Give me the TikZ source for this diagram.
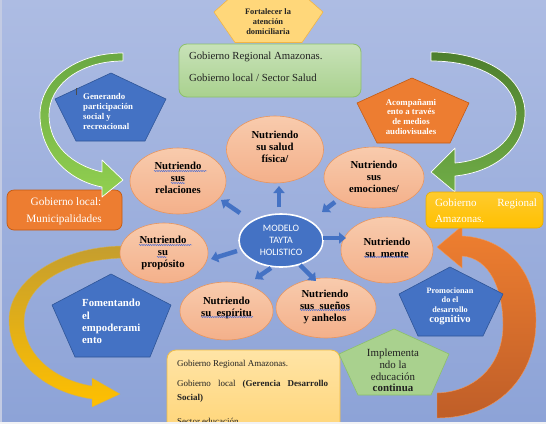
\documentclass[tikz,border=0pt]{standalone}
\usepackage{fontspec}
\setmainfont{Liberation Serif}
\newfontfamily\calibfont{Carlito}
\usetikzlibrary{shapes.geometric,arrows.meta,decorations.pathmorphing}

\definecolor{bgtop}{HTML}{ADBCE3}
\definecolor{bgbot}{HTML}{8DA3D7}
\definecolor{bgstrip}{HTML}{F2F2F4}
\definecolor{leftstrip}{HTML}{C3CBE3}
\definecolor{pblue}{HTML}{4472C4}
\definecolor{pblueline}{HTML}{2F5597}
\definecolor{porange}{HTML}{ED7D31}
\definecolor{porangeline}{HTML}{C55A11}
\definecolor{pgreen}{HTML}{A9D18E}
\definecolor{pgreenline}{HTML}{8CC06B}
\definecolor{gboxtop}{HTML}{C8E2B8}
\definecolor{gboxbot}{HTML}{A9D18E}
\definecolor{gboxline}{HTML}{8CC06B}
\definecolor{pyellow}{HTML}{FFD77A}
\definecolor{pyellowline}{HTML}{F2B544}
\definecolor{nuttop}{HTML}{F8CBAD}
\definecolor{nutbot}{HTML}{F4B08A}
\definecolor{nutline}{HTML}{E8955E}
\definecolor{ytop}{HTML}{FFCB2E}
\definecolor{ybot}{HTML}{FFC000}
\definecolor{yline}{HTML}{E8AE00}
\definecolor{bboxtop}{HTML}{FFE4A6}
\definecolor{bboxbot}{HTML}{FFD474}
\definecolor{bboxline}{HTML}{F0BC45}
\definecolor{lgtop}{HTML}{6AA843}
\definecolor{lgbot}{HTML}{92D050}
\definecolor{rgtop}{HTML}{4E7F2E}
\definecolor{rgbot}{HTML}{70AD47}
\definecolor{gatop}{HTML}{C59E2E}
\definecolor{gabot}{HTML}{FFC000}
\definecolor{oatop}{HTML}{EF7F30}
\definecolor{oabot}{HTML}{BF5E28}
\definecolor{wavyblue}{HTML}{3A64D8}
\definecolor{txtdark}{HTML}{222222}

\tikzset{
  bluepent/.style={fill=pblue, draw=pblueline, line width=0.6pt, line join=round},
  orangepent/.style={fill=porange, draw=porangeline, line width=0.6pt, line join=round},
  greenpent/.style={fill=pgreen, draw=pgreenline, line width=0.6pt, line join=round},
  yellowpent/.style={fill=pyellow, draw=pyellowline, line width=0.6pt, line join=round},
  bandshape/.style={draw=white, line width=0.7pt, line join=round},
  nutell/.style={ellipse, draw=nutline, line width=0.6pt, top color=nuttop, bottom color=nutbot, inner sep=0pt, outer sep=0pt},
  nuttxt/.style={inner sep=0pt, align=center, text=black, font=\fontsize{10.7}{12}\selectfont\bfseries},
  modell/.style={ellipse, draw=white, line width=1.6pt, fill=pblue, inner sep=0pt},
  modtxt/.style={inner sep=0pt, align=center, text=white, font=\calibfont\fontsize{9.8}{12}\selectfont},
  pwtxt/.style={inner sep=0pt, text=white},
  smallarrow/.style={draw=pblue, line width=4.5pt, -{Triangle[length=7pt,width=11pt]}},
  wavy/.style={draw=wavyblue, line width=0.45pt, decorate, decoration={snake, amplitude=0.55pt, segment length=2.2pt}},
  rbox/.style={rounded corners=7pt, inner sep=0pt, outer sep=0pt},
  linetxt/.style={inner sep=0pt, outer sep=0pt}
}

\begin{document}
\begin{tikzpicture}[x=1pt,y=-1pt]
\useasboundingbox (0,0) rectangle (546,424);
% background
\shade[top color=bgtop, bottom color=bgbot] (0,0) rectangle (546,421.5);
\fill[bgstrip] (0,421.5) rectangle (546,424);
\fill[leftstrip] (0,0) rectangle (1.5,421.5);

% left orange box
\node[rbox, fill=porange, draw=porangeline, line width=0.7pt, minimum width=115pt, minimum height=40pt] (munibox) at (64.5,210) {};

% left green curved arrow
\path[bandshape, top color=lgtop, bottom color=lgbot]
  (123,53) .. controls (75,53) and (40,80) .. (40,115)
  .. controls (40,150) and (65,180) .. (102,187)
  -- (102,197) -- (123,180) -- (102,160) -- (102,172)
  .. controls (72,165) and (49,145) .. (49,115)
  .. controls (49,85) and (80,61) .. (123,61) -- cycle;

% right green curved arrow
\path[bandshape, top color=rgtop, bottom color=rgbot]
  (431,52) .. controls (490,52) and (525,80) .. (525,113)
  .. controls (525,148) and (495,172) .. (455,176)
  -- (455,192) -- (431,172) -- (455,148) -- (455,163)
  .. controls (490,160) and (516,140) .. (516,113)
  .. controls (516,85) and (485,61) .. (431,61) -- cycle;

% gold curved arrow (bottom left)
\path[draw=gatop!80!white, line width=0.4pt, top color=gatop, bottom color=gabot]
  (122,246) .. controls (60,247) and (9,280) .. (9,320)
  .. controls (9,362) and (45,392) .. (92,399)
  -- (92,407) -- (120,394) -- (92,378) -- (92,386)
  .. controls (55,380) and (24,355) .. (24,322)
  .. controls (24,285) and (65,260) .. (122,258) -- cycle;

% orange curved arrow (bottom right)
\path[draw=oatop!80!white, line width=0.4pt, top color=oatop, bottom color=oabot]
  (437,418) .. controls (495,418) and (536,380) .. (536,320)
  .. controls (536,270) and (505,238) .. (462,236)
  -- (462,226) -- (437,247) -- (462,268) -- (462,256)
  .. controls (490,258) and (503,290) .. (503,325)
  .. controls (503,365) and (475,392) .. (437,393) -- cycle;

% right yellow box
\node[rbox, rounded corners=6pt, top color=ytop, bottom color=ybot, draw=yline, line width=0.6pt, minimum width=117pt, minimum height=36pt] (regbox) at (484.5,210) {};

% top green box
\node[rbox, rounded corners=8pt, top color=gboxtop, bottom color=gboxbot, draw=gboxline, line width=0.8pt, minimum width=182pt, minimum height=53pt] (saludbox) at (270,70.5) {};

% top pentagon
\draw[yellowpent] (268,-36) -- (323,12) -- (302,42.5) -- (235,42.5) -- (214,12) -- cycle;
\node[inner sep=0pt, align=center, text=txtdark, font=\fontsize{8.4}{10}\selectfont\bfseries] (fort) at (268,21.5) {Fortalecer la\\atención\\domiciliaria};

% bottom box (clipped at the bottom edge)
\begin{scope}
\clip (0,0) rectangle (546,421.5);
\node[rbox, rounded corners=9pt, top color=bboxtop, bottom color=bboxbot, draw=bboxline, line width=0.8pt, minimum width=173pt, minimum height=90pt] (edubox) at (253.5,395) {};
\node[linetxt, anchor=base west, text=txtdark, font=\fontsize{9}{11}\selectfont] (edu1) at (177,366) {Gobierno Regional Amazonas.};
\node[linetxt, anchor=base west, text=txtdark, text width=151pt, font=\fontsize{9}{11}\selectfont] (edu2) at (177,386) {\noindent Gobierno\hfill local\hfill \textbf{(Gerencia}\hfill \textbf{Desarrollo}};
\node[linetxt, anchor=base west, text=txtdark, font=\fontsize{9}{11}\selectfont\bfseries] (edu3) at (177,400) {Social)};
\node[linetxt, anchor=base west, text=txtdark, font=\fontsize{9}{11}\selectfont] (edu4) at (177,424) {Sector educación};
\end{scope}

% pentagons
\draw[bluepent] (111,73) -- (166,99) -- (145,141) -- (76,141) -- (55,99) -- cycle;
\draw[gray!60!black, line width=0.9pt] (76,88) -- (76,95);
\node[pwtxt, anchor=west, align=left, font=\fontsize{8.8}{10.3}\selectfont\bfseries] (gen) at (83,111.5) {Generando\\participación\\social y\\recreacional};

\draw[orangepent] (412,78) -- (469,103) -- (450,143) -- (377,143) -- (357,103) -- cycle;
\node[pwtxt, align=center, font=\fontsize{8.8}{9.8}\selectfont\bfseries] (acomp) at (411,116.7) {Acompañami\\ento a través\\de medios\\audiovisuales};

\draw[bluepent] (111,274) -- (171,305) -- (150,357) -- (75,357) -- (52,305) -- cycle;
\node[pwtxt, anchor=west, align=left, font=\fontsize{10.8}{12.3}\selectfont\bfseries] (fomen) at (82,321.5) {Fomentando\\el\\empoderami\\ento};

\draw[bluepent] (450,267) -- (503,294) -- (483,336) -- (418,336) -- (399,294) -- cycle;
\node[pwtxt, align=center, font=\fontsize{8.2}{9.6}\selectfont\bfseries] (promo) at (450,306) {Promocionan\\do el\\desarrollo\\{\fontsize{10.6}{10}\selectfont cognitivo}};

\draw[greenpent] (394,329) -- (449,354) -- (431,395) -- (358,395) -- (339,354) -- cycle;
\node[inner sep=0pt, align=center, text=txtdark, font=\fontsize{10.9}{11.8}\selectfont] (impl) at (393,370.5) {Implementa\\ndo la\\educación\\\textbf{continua}};

% box texts
\node[linetxt, anchor=base west, text=txtdark, font=\fontsize{10.8}{13}\selectfont] (sal1) at (189,59.5) {Gobierno Regional Amazonas.};
\node[linetxt, anchor=base west, text=txtdark, font=\fontsize{10.8}{13}\selectfont] (sal2) at (189,81.5) {Gobierno local / Sector Salud};
\node[linetxt, anchor=base, text=white, font=\fontsize{11.3}{13}\selectfont] (muni1) at (66,205.5) {Gobierno local:};
\node[linetxt, anchor=base, text=white, font=\fontsize{11.3}{13}\selectfont] (muni2) at (64,222.5) {Municipalidades};
\node[linetxt, anchor=base west, text=white, text width=102pt, font=\fontsize{11}{13}\selectfont] (reg1) at (435,206) {\noindent Gobierno\hfill Regional};
\node[linetxt, anchor=base west, text=white, font=\fontsize{11}{13}\selectfont] (reg2) at (435,222) {Amazonas.};

% ellipses
\node[nutell, minimum width=97pt, minimum height=67pt] (salud) at (275,149.5) {};
\node[nuttxt] (salud-t) at (275,146.5) {Nutriendo\\su salud\\física/};

\node[nutell, minimum width=96pt, minimum height=66pt] (relac) at (178,181) {};
\node[nuttxt] (relac-t) at (178,178) {Nutriendo\\sus\\relaciones};

\node[nutell, minimum width=100pt, minimum height=61pt] (emoc) at (374,177.5) {};
\node[nuttxt] (emoc-t) at (374,177) {Nutriendo\\sus\\emociones/};

\node[nutell, minimum width=88pt, minimum height=60pt] (prop) at (164,253) {};
\node[nuttxt] (prop-t) at (163,253) {Nutriendo\\su\\propósito};

\node[nutell, minimum width=92pt, minimum height=66pt] (mente) at (387,250) {};
\node[nuttxt] (mente-t) at (387,247.5) {Nutriendo\\su\ \ mente};

\node[nutell, minimum width=93pt, minimum height=58pt] (espir) at (226.5,311) {};
\node[nuttxt] (espir-t) at (226.5,307.5) {Nutriendo\\su\ \ espíritu};

\node[nutell, minimum width=100pt, minimum height=60pt] (suenos) at (326,308) {};
\node[nuttxt] (suenos-t) at (325,307) {Nutriendo\\sus\ \ sueños\\y anhelos};

% spell-check underlines
\draw[wavy] (154,171) -- (207,171);
\draw[wavy] (171,183) -- (185,183);
\draw[wavy] (139,245) -- (192,245);
\draw[wavy] (157,257) -- (167,257);
\draw[wavy] (364,257) -- (409,257);
\draw[wavy] (201,317) -- (253,317);
\draw[wavy] (300,310) -- (350,310);

% center
\node[modell, minimum width=84pt, minimum height=53pt] (model) at (281,240.5) {};
\node[modtxt] (model-t) at (281,240) {MODELO\\TAYTA\\HOLISTICO};

% small arrows
\coordinate (aUs) at (279,207);   \coordinate (aUe) at (279,186);
\coordinate (aULs) at (240,213);  \coordinate (aULe) at (221,200);
\coordinate (aEs) at (335,202);   \coordinate (aEe) at (322,212);
\coordinate (aRs) at (323,238);   \coordinate (aRe) at (346,238);
\coordinate (aLs) at (237,251);   \coordinate (aLe) at (211,259);
\coordinate (aDLs) at (271,268);  \coordinate (aDLe) at (255,279);
\coordinate (aDRs) at (300,265);  \coordinate (aDRe) at (316,281);
\draw[smallarrow] (aUs) -- (aUe);
\draw[smallarrow] (aULs) -- (aULe);
\draw[smallarrow] (aEs) -- (aEe);
\draw[smallarrow] (aRs) -- (aRe);
\draw[smallarrow] (aLs) -- (aLe);
\draw[smallarrow] (aDLs) -- (aDLe);
\draw[smallarrow] (aDRs) -- (aDRe);
\end{tikzpicture}
\end{document}
